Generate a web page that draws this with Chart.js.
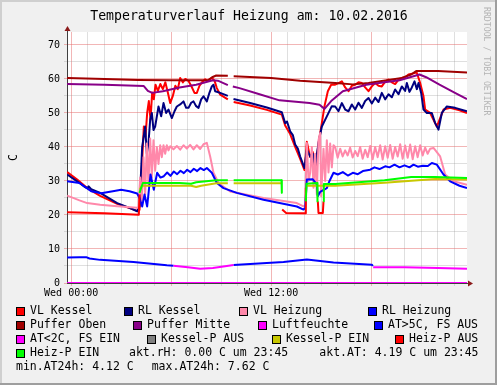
<!DOCTYPE html>
<html lang="de">
  <head>
    <meta charset="UTF-8" />
    <title>Temperaturverlauf Heizung</title>
    <script src="https://cdn.jsdelivr.net/npm/chart.js"></script>
    <style>
      html, body { margin: 0; padding: 0; background: #f0f0f0; }
      canvas { display: block; }
    </style>
  </head>
  <body>
    <canvas id="tempChart" width="497" height="385"></canvas>

    <script>
      // Daten (Stunden ab Mitternacht, Temperatur in C)
      const titleText = 'Temperaturverlauf Heizung am: 10.02.2016';
      const yTicks = [0, 5, 10, 15, 20, 25, 30, 35, 40, 45, 50, 55, 60, 65, 70];
      const xTicks = [0, 1, 2, 3, 4, 5, 6, 7, 8, 9, 10, 11, 12, 13, 14, 15, 16, 17, 18, 19, 20, 21, 22, 23];
      const xLabels = { 0: 'Wed 00:00', 12: 'Wed 12:00' };

      const vlKessel = [
        [-0.24, 32.6], [0.36, 30.4], [0.96, 27.9], [1.74, 25.6], [2.76, 23.3], [3.5, 22], [3.96, 21.2],
        [4.1, 21.5], [4.25, 35], [4.36, 46], [4.46, 43], [4.56, 50], [4.66, 53.5], [4.76, 48], [4.86, 56],
        [4.96, 54], [5.06, 58.3], [5.2, 56.5], [5.35, 58.5], [5.5, 57], [5.65, 59], [5.8, 56], [5.94, 52.9],
        [6.1, 55], [6.25, 58], [6.4, 57], [6.54, 60.3], [6.7, 59], [6.85, 60], [7.04, 59.4], [7.2, 58],
        [7.4, 55.9], [7.54, 55.9], [7.7, 58], [7.85, 59], [8.04, 59.9], [8.2, 59.4], [8.44, 60.3], [8.6, 59.5],
        [8.74, 57.3], [8.94, 55.4], [9.4, 54], [9.55, null], [9.75, 53.2], [10.74, 52.2], [11.74, 50.9],
        [12.64, 49.5], [12.84, 46.3], [13.14, 43.8], [13.44, 40], [13.74, 36.5], [14.0, 33.2], [14.14, 41.5],
        [14.34, 37], [14.5, 38.5], [14.64, 33.5], [14.84, 41], [15.04, 47], [15.2, 52], [15.4, 56.4],
        [15.6, 58.3], [15.84, 58.3], [16.04, 58.8], [16.24, 59.3], [16.44, 57.5], [16.64, 56.4], [16.84, 58],
        [17.04, 58.3], [17.24, 59], [17.44, 58.8], [17.64, 57.5], [17.84, 56.4], [18.04, 57.8], [18.24, 58.8],
        [18.44, 58], [18.64, 57.8], [18.84, 59.2], [19.04, 59.8], [19.24, 59], [19.44, 58.5], [19.64, 59.8],
        [19.84, 60.3], [20.04, 60.5], [20.24, 61.3], [20.44, 61.5], [20.64, 61.8], [20.74, 61.8], [20.94, 58.8],
        [21.14, 54.9], [21.24, 51], [21.54, 50], [21.74, 48], [21.94, 46], [22.14, 48.5], [22.34, 51],
        [22.74, 51.5], [23.3, 50.8], [23.75, 50]
      ];
      const rlKessel = [
        [-0.24, 31.9], [0.36, 29.9], [0.8, 28.3], [0.96, 27.9], [1.05, 28.4], [1.2, 27.6], [1.74, 26.5],
        [2.76, 23.5], [3.5, 22.1], [3.96, 21.1], [4.1, 22.5], [4.26, 40], [4.44, 46], [4.54, 38], [4.64, 41.2],
        [4.74, 48], [4.84, 50], [4.94, 45], [5.04, 46], [5.24, 51.9], [5.4, 49], [5.54, 52.9], [5.7, 50],
        [5.84, 51], [6.04, 48.5], [6.2, 50.5], [6.34, 51.9], [6.54, 52.5], [6.74, 53.4], [6.9, 51.5],
        [7.04, 51.5], [7.2, 53], [7.34, 53.4], [7.5, 52], [7.64, 51.5], [7.8, 54], [7.94, 54.9], [8.14, 53.4],
        [8.3, 56], [8.44, 57.8], [8.54, 58.3], [8.64, 56.4], [8.94, 55.9], [9.4, 55], [9.55, null], [9.74, 54.1],
        [10.74, 52.9], [11.74, 51.6], [12.64, 50.2], [12.84, 47], [12.95, 47.5], [13.14, 44.6], [13.3, 43.5],
        [13.44, 40.7], [13.6, 39.5], [13.74, 37.2], [14.0, 33.8], [14.14, 39.2], [14.34, 37.2], [14.5, 38],
        [14.64, 33.8], [14.84, 41.2], [15.04, 46], [15.34, 49], [15.64, 52], [15.84, 51.9], [16.04, 50.5],
        [16.24, 52.9], [16.44, 51], [16.64, 50.5], [16.84, 52.5], [17.04, 51], [17.24, 53], [17.44, 51.5],
        [17.64, 53.5], [17.84, 54.4], [18.04, 52.8], [18.24, 54.5], [18.44, 53.2], [18.64, 55.9], [18.84, 54],
        [19.04, 55.5], [19.24, 54.6], [19.44, 56.9], [19.64, 55.5], [19.84, 57.8], [20.04, 56.5], [20.14, 58.8],
        [20.3, 56.2], [20.44, 57.5], [20.6, 59.3], [20.74, 57], [20.84, 58.8], [21.0, 55.9], [21.14, 51],
        [21.34, 50], [21.64, 50], [21.84, 47], [22.04, 45.1], [22.24, 50], [22.54, 51.9], [23.04, 51.5],
        [23.75, 50.5]
      ];
      const vlHeizung = [
        [-0.24, 25.7], [0.5, 24.3], [0.96, 23.5], [1.74, 23], [2.76, 22.6], [3.96, 22.1], [4.04, 22.5],
        [4.14, 31], [4.24, 24], [4.34, 37], [4.44, 26], [4.54, 41], [4.64, 29], [4.74, 42.5], [4.84, 31],
        [4.94, 42], [5.04, 33], [5.14, 40], [5.24, 35], [5.34, 40.5], [5.44, 37], [5.54, 40.5], [5.64, 38],
        [5.74, 40.5], [5.84, 39], [5.94, 40.2], [6.14, 39.3], [6.34, 40.3], [6.54, 39.2], [6.74, 40.5],
        [6.94, 39.5], [7.14, 40.6], [7.34, 39.3], [7.54, 40.5], [7.74, 39.4], [7.94, 40.8], [8.14, 41.2],
        [8.34, 37.2], [8.54, 32.4], [8.84, 29.4], [9.54, 26.9], [11.54, 25], [13.54, 23.5], [13.94, 22.5],
        [14.04, 23], [14.14, 41.2], [14.24, 30], [14.34, 32.4], [14.44, 40], [14.54, 28], [14.64, 38],
        [14.74, 26], [14.84, 42], [14.94, 44.1], [15.0, 25.5], [15.14, 39.5], [15.24, 30], [15.34, 42],
        [15.44, 32.5], [15.54, 41], [15.64, 34], [15.74, 40.5], [15.84, 40], [15.99, 36.8], [16.14, 39.5],
        [16.29, 37.2], [16.44, 39], [16.59, 37.5], [16.74, 39.8], [16.89, 36.9], [17.04, 38.8], [17.19, 37.3],
        [17.34, 40], [17.49, 36.5], [17.64, 39.2], [17.79, 37], [17.94, 40.3], [18.09, 36.4], [18.24, 40],
        [18.39, 37], [18.54, 40.5], [18.69, 36.3], [18.84, 40.2], [18.99, 36.8], [19.14, 40.6], [19.29, 36.5],
        [19.44, 40], [19.59, 37.2], [19.74, 40.8], [19.89, 36.5], [20.04, 40.4], [20.19, 36.8], [20.34, 40.7],
        [20.49, 36.4], [20.64, 40.2], [20.79, 37], [20.94, 40.5], [21.09, 37.5], [21.24, 39.8], [21.39, 38],
        [21.54, 39.5], [21.74, 39.7], [22.14, 37.2], [22.44, 31.9], [22.94, 29.9], [23.75, 28.9]
      ];
      const rlHeizung = [
        [-0.24, 29.9], [0.5, 29.4], [1.2, 27], [1.8, 26.4], [2.5, 27], [3.0, 27.4], [3.5, 27], [3.96, 26.3],
        [4.1, 25], [4.26, 22.5], [4.4, 26], [4.56, 22.5], [4.76, 31.9], [4.96, 27.4], [5.16, 32.4], [5.36, 31],
        [5.56, 31.4], [5.76, 32.5], [5.96, 31.5], [6.16, 32.8], [6.36, 32], [6.56, 33], [6.76, 32.3],
        [6.96, 33.3], [7.16, 32.6], [7.36, 33.6], [7.56, 32.9], [7.76, 33.8], [7.96, 33.2], [8.14, 33.8],
        [8.44, 32.4], [8.74, 29.4], [9.14, 27.9], [9.94, 26.5], [11.54, 24.5], [13.54, 22.5], [13.94, 21.6],
        [14.04, 22], [14.14, 30.4], [14.5, 30.5], [14.74, 29], [14.8, 25.5], [14.94, 26.8], [15.34, 27.9],
        [15.5, 30], [15.74, 32.4], [16.0, 31.9], [16.3, 32.6], [16.6, 31.6], [16.9, 32.4], [17.2, 32],
        [17.5, 32.9], [17.94, 33.3], [18.2, 34], [18.5, 33.5], [18.84, 34.3], [19.1, 34], [19.4, 34.8],
        [19.7, 34], [20.0, 34.6], [20.3, 34], [20.54, 34.8], [20.8, 34.2], [21.1, 34.5], [21.4, 34.4],
        [21.64, 35.3], [21.94, 34.8], [22.34, 31.9], [22.74, 29.9], [23.3, 28.6], [23.75, 27.9]
      ];
      const pufferOben = [
        [-0.24, 60.3], [2, 60], [4, 59.7], [6, 59.6], [8.2, 59.6], [8.46, 60.5], [8.7, 61], [9.4, 60.9],
        [9.55, null], [9.75, 60.8], [12, 60.3], [13.74, 59.5], [15.84, 58.8], [16.9, 58.4], [17.84, 58.8],
        [19.84, 60.3], [20.4, 61.3], [20.7, 62.3], [22, 62.3], [23.75, 61.9]
      ];
      const pufferMitte = [
        [-0.24, 58.5], [2, 58.3], [4.36, 57.9], [4.6, 56.5], [4.86, 55.9], [5.5, 56.4], [6.5, 57.5],
        [7.5, 58.3], [8.5, 59.6], [8.8, 59.5], [9.4, 58.2], [9.55, null], [9.7, 57.8], [10.1, 57.3],
        [11.3, 55.5], [12.5, 53.7], [14.3, 52.9], [14.9, 52.4], [15.2, 51.2], [15.6, 53.5], [16.3, 56.4],
        [17.7, 58.3], [19.7, 59.6], [20.9, 61.3], [21.3, 60.5], [22.1, 58.3], [23, 56], [23.75, 54.1]
      ];
      const luftfeuchte = [[-0.24, 0], [6, 0], [12, 0], [18, 0], [23.75, 0]];
      const atHoch = [
        [-0.24, 7.5], [0.5, 7.6], [0.9, 7.6], [1.1, 7.2], [1.74, 6.8], [3.74, 6.2], [5.74, 5.2], [6.14, 5.1],
        [6.2, null], [9.74, 5.3], [10.74, 5.6], [12.74, 6.2], [14.14, 6.9], [15.74, 6.0], [18.04, 5.4],
        [18.1, 5.0]
      ];
      const atTief = [
        [6.14, 5.1], [7.0, 4.6], [7.74, 4.2], [8.5, 4.4], [9.34, 5.0], [9.74, 5.3], [9.8, null],
        [18.12, 4.6], [20, 4.6], [22, 4.4], [23.75, 4.2]
      ];
      const kesselPAus = [];
      const kesselPEin = [
        [4.12, 27.5], [4.24, 28.6], [6, 28.6], [7.2, 28.6], [7.5, 28.2], [7.8, 28.6], [8.7, 29.3], [9.4, 29.3],
        [9.55, null], [9.75, 29.3], [12.64, 29.3], [12.7, null], [14.1, 28.6], [15.84, 28.6], [18.8, 29.5],
        [21.84, 30.6], [23.75, 30.4]
      ];
      const heizPAus = [
        [-0.24, 20.8], [2, 20.5], [4.06, 20.1], [4.1, 26], [4.12, null], [12.66, 21.6], [12.9, 20.6],
        [14.04, 20.5], [14.08, 28], [14.1, null], [14.8, 24], [14.84, 20.6], [15.1, 20.6], [15.14, 24]
      ];
      const heizPEin = [
        [4.1, 26.5], [4.3, 29.4], [6.5, 29.4], [7.2, 29.2], [7.5, 29.6], [8.7, 30.2], [9.4, 30.2],
        [9.55, null], [9.75, 30.2], [12.62, 30.2], [12.64, 26.5], [12.7, null], [14.08, 24], [14.12, 29.2],
        [14.76, 29.4], [14.78, 24], [14.8, null], [15.12, 24], [15.16, 29.1], [15.84, 29.1], [18.8, 30.2],
        [20.4, 31.2], [21.84, 31.2], [23.75, 30.9]
      ];

      const seriesLabels = ['VL Kessel', 'RL Kessel', 'VL Heizung', 'RL Heizung', 'Puffer Oben', 'Puffer Mitte',
        'Luftfeuchte', 'AT>5C, FS AUS', 'AT<2C, FS EIN', 'Kessel-P AUS', 'Kessel-P EIN', 'Heiz-P AUS', 'Heiz-P EIN'];
      const seriesData = [vlKessel, rlKessel, vlHeizung, rlHeizung, pufferOben, pufferMitte,
        luftfeuchte, atHoch, atTief, kesselPAus, kesselPEin, heizPAus, heizPEin];
      const seriesColors = ['#ff0000', '#000080', '#ff88aa', '#0000ff', '#a00000', '#880088',
        '#ff00ff', '#0000ff', '#ff00ff', '#808080', '#c8c800', '#ff0000', '#00ff00'];

      // aktuelle Werte
      const aktRH = '0.00';
      const aktAT = '4.19';
      const minAT = '4.12';
      const maxAT = '7.62';
      const letzteZeit = '23:45';

      // Legendenplatz: [x, zeile]
      const legendSlots = [[16, 0], [124, 0], [239, 0], [368, 0], [16, 1], [133, 1], [258, 1], [374, 1],
        [16, 2], [147, 2], [272, 2], [395, 2], [16, 3]];

      const mono = "'DejaVu Sans Mono', monospace";

      const datasets = seriesData.map((d, i) => ({
        label: seriesLabels[i],
        data: d.map(p => ({ x: p[0], y: p[1] })),
        borderColor: seriesColors[i],
        backgroundColor: seriesColors[i],
        borderWidth: 2,
        pointRadius: 0,
        tension: 0,
        spanGaps: false,
        borderJoinStyle: 'round',
        order: seriesData.length - i
      }));

      const rrdDeko = {
        id: 'rrdDeko',
        beforeDraw(chart) {
          const c = chart.ctx;
          const a = chart.chartArea;
          c.save();
          c.fillStyle = '#f0f0f0';
          c.fillRect(0, 0, chart.width, chart.height);
          c.fillStyle = '#ffffff';
          c.fillRect(a.left, a.top, a.right - a.left, a.bottom - a.top);
          // Rahmen
          c.fillStyle = '#cfcfcf';
          c.fillRect(0, 0, chart.width, 2);
          c.fillRect(0, 0, 2, chart.height);
          c.fillStyle = '#9e9e9e';
          c.fillRect(0, chart.height - 2, chart.width, 2);
          c.fillRect(chart.width - 2, 0, 2, chart.height);
          c.restore();
        },
        beforeDatasetsDraw(chart) {
          const c = chart.ctx;
          const a = chart.chartArea;
          c.save();
          c.strokeStyle = '#404040';
          c.lineWidth = 1;
          c.beginPath();
          c.moveTo(a.left + 0.5, a.bottom);
          c.lineTo(a.left + 0.5, a.top - 2);
          c.moveTo(a.left, a.bottom + 0.5);
          c.lineTo(a.right + 2, a.bottom + 0.5);
          c.stroke();
          c.fillStyle = '#8b1a1a';
          c.beginPath();
          c.moveTo(a.left - 2.5, a.top - 1);
          c.lineTo(a.left + 3.5, a.top - 1);
          c.lineTo(a.left + 0.5, a.top - 6);
          c.closePath();
          c.fill();
          c.beginPath();
          c.moveTo(a.right + 1, a.bottom - 2.5);
          c.lineTo(a.right + 1, a.bottom + 3.5);
          c.lineTo(a.right + 6, a.bottom + 0.5);
          c.closePath();
          c.fill();
          c.restore();
        },
        afterDraw(chart) {
          const c = chart.ctx;
          c.save();
          // Titel
          c.fillStyle = '#000';
          c.font = '13.2px ' + mono;
          c.textAlign = 'center';
          c.textBaseline = 'middle';
          c.fillText(titleText, 249, 17);

          // Legende
          c.font = '11.5px ' + mono;
          c.textAlign = 'left';
          const rowY = r => 311.5 + r * 14;
          chart.data.datasets.forEach((ds, i) => {
            const [x, r] = legendSlots[i];
            const y = rowY(r);
            c.fillStyle = ds.borderColor;
            c.fillRect(x, y - 4.5, 9, 9);
            c.strokeStyle = '#000';
            c.lineWidth = 1;
            c.strokeRect(x + 0.5, y - 4, 8, 8);
            c.fillStyle = '#000';
            c.fillText(ds.label, x + 14, y);
          });
          c.fillText('akt.rH: ' + aktRH + ' C um ' + letzteZeit, 129, rowY(3));
          c.fillText('akt.AT: ' + aktAT + ' C um ' + letzteZeit, 319.3, rowY(3));
          c.fillText('min.AT24h: ' + minAT + ' C', 16, rowY(4));
          c.fillText('max.AT24h: ' + maxAT + ' C', 151.7, rowY(4));

          // Wasserzeichen
          c.translate(484, 7);
          c.rotate(Math.PI / 2);
          c.font = '8.2px ' + mono;
          c.fillStyle = '#b4b4b4';
          c.textBaseline = 'alphabetic';
          c.fillText('RRDTOOL / TOBI OETIKER', 0, 0);
          c.restore();
        }
      };

      const majorGrid = 'rgba(230, 110, 110, 0.5)';
      const minorGrid = 'rgba(150, 150, 150, 0.3)';

      const ctx = document.getElementById('tempChart').getContext('2d');
      const tempChart = new Chart(ctx, {
        type: 'line',
        data: { datasets: datasets },
        options: {
          responsive: false,
          animation: false,
          devicePixelRatio: 1,
          layout: { padding: { left: 0, right: 30, top: 32, bottom: 0 } },
          plugins: {
            legend: { display: false },
            tooltip: { enabled: false },
            title: { display: false }
          },
          scales: {
            x: {
              type: 'linear',
              min: -0.25,
              max: 23.75,
              afterFit: s => { s.height = 102; },
              afterBuildTicks: s => { s.ticks = xTicks.map(v => ({ value: v })); },
              border: { display: false },
              grid: {
                color: c => (c.tick && c.tick.value % 6 === 0 ? majorGrid : minorGrid),
                tickLength: 3
              },
              ticks: {
                autoSkip: false,
                maxRotation: 0,
                padding: 1,
                color: '#000',
                font: { family: mono, size: 10 },
                callback: v => xLabels[v] || ''
              }
            },
            y: {
              min: 0,
              max: 73.8,
              afterFit: s => { s.width = 67; },
              afterBuildTicks: s => { s.ticks = yTicks.map(v => ({ value: v })); },
              border: { display: false },
              grid: {
                color: c => (c.tick && c.tick.value % 10 === 0 ? majorGrid : minorGrid),
                tickLength: 3
              },
              ticks: {
                padding: 4,
                color: '#000',
                font: { family: mono, size: 10 },
                callback: v => (v % 10 === 0 ? String(v) : '')
              },
              title: {
                display: true,
                text: 'C',
                color: '#000',
                font: { family: mono, size: 11.5 },
                padding: { top: 7, bottom: 0 }
              }
            }
          }
        },
        plugins: [rrdDeko]
      });
    </script>
  </body>
</html>
